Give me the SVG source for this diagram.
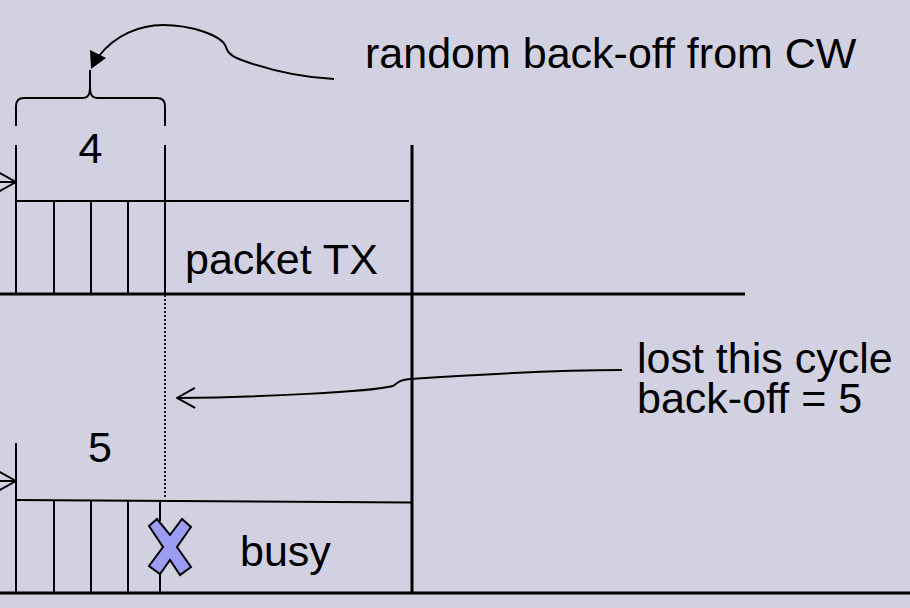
<svg xmlns="http://www.w3.org/2000/svg" width="910" height="608" viewBox="0 0 910 608">
<style>
.ln{stroke:#000;stroke-width:2;fill:none}
.thk{stroke:#000;stroke-width:3;fill:none}
.tx{font-family:"Liberation Sans",Arial,sans-serif;font-size:43px;fill:#000}
.dot{stroke:#1e1e3c;stroke-width:2;stroke-dasharray:2,2;fill:none}
</style>
<defs>
<marker id="open" viewBox="0 0 20 24" refX="19" refY="12" markerWidth="20" markerHeight="24" markerUnits="userSpaceOnUse" orient="auto">
<path d="M1,2 L19,12 L1,22" fill="none" stroke="#000" stroke-width="2"/>
</marker>
</defs>
<rect width="910" height="608" fill="#d1d1e1"/>

<g id="node-top-slots">
<line class="ln" x1="16" y1="145" x2="16" y2="294"/>
<line class="ln" x1="165" y1="145" x2="165" y2="294"/>
<line class="ln" x1="54" y1="201" x2="54" y2="294"/>
<line class="ln" x1="91" y1="201" x2="91" y2="294"/>
<line class="ln" x1="128" y1="201" x2="128" y2="294"/>
<line class="ln" x1="16" y1="201" x2="409" y2="201"/>
<text class="tx" x="90.5" y="163" text-anchor="middle">4</text>
</g>

<g id="node-packet">
<text class="tx" x="185" y="274">packet TX</text>
</g>

<g id="node-bottom-slots">
<line class="ln" x1="16" y1="443" x2="16" y2="593"/>
<line class="ln" x1="54" y1="500" x2="54" y2="593"/>
<line class="ln" x1="91" y1="500" x2="91" y2="593"/>
<line class="ln" x1="128" y1="500" x2="128" y2="593"/>
<line class="ln" x1="160" y1="500" x2="160" y2="521"/>
<line class="ln" x1="160" y1="573" x2="160" y2="593"/>
<line class="ln" x1="16" y1="500" x2="411" y2="502.5"/>
<text class="tx" x="100" y="462" text-anchor="middle">5</text>
</g>

<g id="node-busy">
<polygon points="149,526 157,519 170,535 182,519 191,527 177,547 191,567 180,575 170,560 160,574 149,566 163,547" fill="#9c9cf2" stroke="#000" stroke-width="2" stroke-linejoin="miter"/>
<text class="tx" x="240" y="566">busy</text>
</g>

<g id="node-random-label">
<text class="tx" x="365" y="68">random back-off from CW</text>
</g>

<g id="node-lost-label">
<text class="tx" x="637" y="373">lost this cycle</text>
<text class="tx" x="637" y="413">back-off = 5</text>
</g>

<g id="axes">
<line class="thk" x1="0" y1="294" x2="745" y2="294"/>
<line class="thk" x1="0" y1="593" x2="910" y2="593"/>
<line class="thk" x1="412" y1="145" x2="412" y2="593"/>
<line class="dot" x1="165" y1="295" x2="165" y2="499"/>
</g>

<g id="connectors">
<line class="ln" x1="0" y1="182" x2="16" y2="182" marker-end="url(#open)"/>
<line class="ln" x1="0" y1="481" x2="16" y2="481" marker-end="url(#open)"/>
<path class="ln" d="M16,126 L16,106 Q16,98 24,98 L83,98 Q90,98 90,88 L90,70 M90,88 Q90,98 97,98 L157,98 Q165,98 165,106 L165,126"/>
<path class="ln" d="M99,56 C115,35 140,25 163,25 C190,25 222,35 226,47 C228,55 235,58 250,63 C280,73 310,78 334,79"/>
<polygon points="91,69 90,50 106,58" fill="#000"/>
<path class="ln" d="M622,370 C560,370 470,375 410,379 C398,380 398,383 393,386 C370,392 260,397 177,398" marker-end="url(#open)"/>
</g>
</svg>
